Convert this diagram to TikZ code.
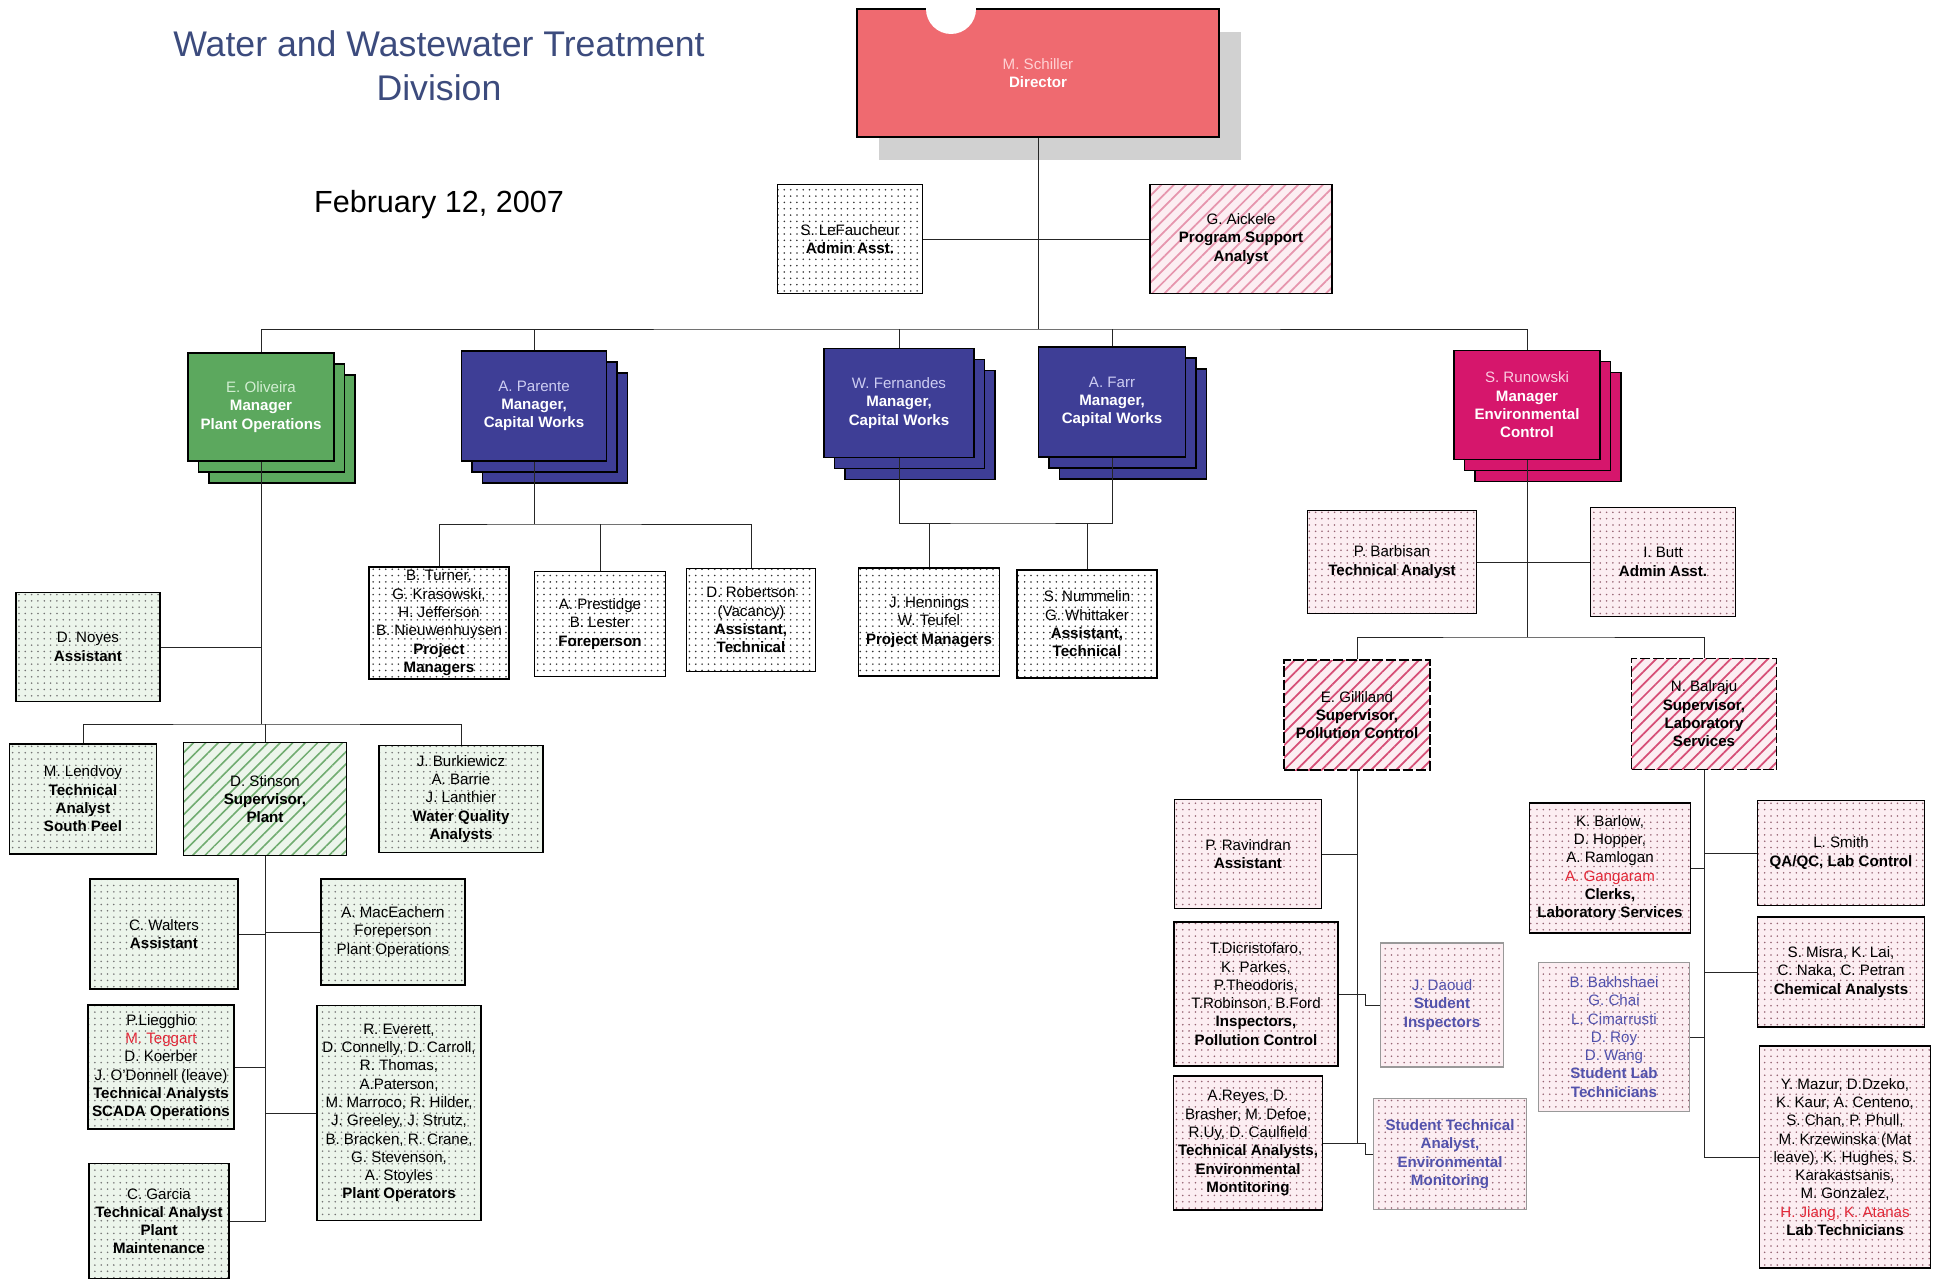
\documentclass[tikz,border=0pt]{standalone}
\usepackage{fontspec}
\setmainfont{Liberation Sans}
\usetikzlibrary{patterns.meta,shadows}

\definecolor{titleblue}{RGB}{60,75,125}
\definecolor{dirred}{RGB}{239,106,112}
\definecolor{dirname}{RGB}{255,210,212}
\definecolor{mgrgreen}{RGB}{92,168,94}
\definecolor{greenname}{RGB}{210,238,210}
\definecolor{mgrblue}{RGB}{62,62,150}
\definecolor{bluename}{RGB}{205,205,242}
\definecolor{mgrpink}{RGB}{214,22,108}
\definecolor{pinkname}{RGB}{250,205,225}
\definecolor{greenbg}{RGB}{236,245,235}
\definecolor{pinkbg}{RGB}{252,238,242}
\definecolor{greenline}{RGB}{112,172,112}
\definecolor{pinkline}{RGB}{214,78,118}
\definecolor{dotpink}{RGB}{150,100,115}
\definecolor{studentblue}{RGB}{82,82,172}
\definecolor{alertred}{RGB}{226,40,56}

\newcommand{\boxfont}{\fontsize{8.6}{10.4}\selectfont}

\begin{document}
\begin{tikzpicture}[x=0.02cm, y=-0.02cm,
    sz/.style 2 args={minimum width=#1*0.02cm, minimum height=#2*0.02cm},
    box/.style={rectangle, draw, line width=0.75pt, align=center, inner sep=1pt, font=\boxfont},
    dotbox/.style={box, preaction={fill=white}, pattern={Dots[distance=3.6pt, radius=0.5pt]}, pattern color=black!80},
    greenbox/.style={box, preaction={fill=greenbg}, pattern={Dots[distance=3.6pt, radius=0.5pt]}, pattern color=black!55},
    pinkbox/.style={box, preaction={fill=pinkbg}, pattern={Dots[distance=3.6pt, radius=0.5pt]}, pattern color=dotpink},
    greenhatch/.style={box, preaction={fill=greenbg}, pattern={Lines[angle=45, distance=5pt, line width=0.9pt]}, pattern color=greenline},
    pinkhatch/.style={box, preaction={fill=pinkbg}, pattern={Lines[angle=45, distance=5pt, line width=1pt]}, pattern color=pinkline},
    studentbox/.style={pinkbox, draw=black!40, line width=0.6pt, text=studentblue},
    mgrbox/.style={box, fill=#1, copy shadow={shadow xshift=0.42cm, shadow yshift=-0.44cm}, copy shadow={shadow xshift=0.21cm, shadow yshift=-0.22cm}, text=white, font=\boxfont\bfseries},
    dirbox/.style={box, fill=dirred, drop shadow={shadow xshift=0.44cm, shadow yshift=-0.46cm, fill=black!18, opacity=1}, text=white, font=\boxfont\bfseries},
    link/.style={draw=black!85, line width=0.5pt}
]
    \useasboundingbox (0,0) rectangle (1937,1284);

    % Heading
    \node[font=\fontsize{20.3}{25}\selectfont, text=titleblue, align=center] (title) at (439,66) {Water and Wastewater Treatment\\Division};
    \node[font=\fontsize{17.4}{20}\selectfont] (date) at (439,205) {February 12, 2007};

    % Director and staff
    \node[dirbox, sz={362}{128}] (dir) at (1038,73) {{\mdseries\color{dirname}M. Schiller}\\Director};
    \fill[white] (951,9) circle (0.5cm);
    \node[dotbox, sz={145}{109}] (lefaucheur) at (850,239) {S. LeFaucheur\\\textbf{Admin Asst.}};
    \node[pinkhatch, pattern color=pinkline!60, sz={182}{109}] (aickele) at (1241,239) {G. Aickele\\\textbf{Program Support}\\\textbf{Analyst}};

    % Managers
    \node[mgrbox=mgrgreen, sz={146}{108}] (oliveira) at (261,407) {{\mdseries\color{greenname}E. Oliveira}\\Manager\\Plant Operations};
    \node[mgrbox=mgrblue, sz={145}{110}] (parente) at (534,406) {{\mdseries\color{bluename}A. Parente}\\Manager,\\Capital Works};
    \node[mgrbox=mgrblue, sz={150}{109}] (fernandes) at (899,403) {{\mdseries\color{bluename}W.  Fernandes}\\Manager,\\Capital Works};
    \node[mgrbox=mgrblue, sz={147}{110}] (farr) at (1112,402) {{\mdseries\color{bluename}A. Farr}\\Manager,\\Capital Works};
    \node[mgrbox=mgrpink, sz={146}{109}] (runowski) at (1527,405) {{\mdseries\color{pinkname}S. Runowski}\\Manager\\Environmental\\Control};

    % Capital works staff
    \node[dotbox, sz={140}{112}] (turner) at (439,623) {B. Turner,\\G. Krasowski,\\H. Jefferson\\B. Nieuwenhuysen\\\textbf{Project}\\\textbf{Managers}};
    \node[dotbox, sz={131}{105}] (prestidge) at (600,624) {A. Prestidge\\B. Lester\\\textbf{Foreperson}};
    \node[dotbox, sz={129}{103}] (robertson) at (751,620) {D. Robertson\\(Vacancy)\\\textbf{Assistant,}\\\textbf{Technical}};
    \node[dotbox, sz={141}{108}] (hennings) at (929,622) {J. Hennings\\W. Teufel\\\textbf{Project Managers}};
    \node[dotbox, sz={140}{108}] (nummelin) at (1087,624) {S. Nummelin\\G. Whittaker\\\textbf{Assistant,}\\\textbf{Technical}};

    % Plant operations staff
    \node[greenbox, sz={144}{109}] (noyes) at (88,647) {D. Noyes\\\textbf{Assistant}};
    \node[greenbox, sz={147}{110}] (lendvoy) at (83,799) {M. Lendvoy\\\textbf{Technical}\\\textbf{Analyst}\\\textbf{South Peel}};
    \node[greenhatch, sz={163}{113}] (stinson) at (265,799) {D. Stinson\\\textbf{Supervisor,}\\\textbf{Plant}};
    \node[greenbox, sz={164}{107}] (burkiewicz) at (461,799) {J. Burkiewicz\\A. Barrie\\J. Lanthier\\\textbf{Water Quality}\\\textbf{Analysts}};
    \node[greenbox, sz={148}{110}] (walters) at (164,934) {C. Walters\\\textbf{Assistant}};
    \node[greenbox, sz={144}{106}] (maceachern) at (393,932) {A. MacEachern\\Foreperson\\Plant Operations};
    \node[greenbox, sz={146}{124}] (liegghio) at (161,1067) {P.Liegghio\\{\color{alertred}M. Teggart}\\D. Koerber\\J. O'Donnell (leave)\\\textbf{Technical Analysts}\\\textbf{SCADA Operations}};
    \node[greenbox, sz={164}{215}] (operators) at (399,1113) {R. Everett,\\D. Connelly, D. Carroll,\\R. Thomas,\\A.Paterson,\\M. Marroco, R. Hilder,\\J. Greeley, J. Strutz,\\B. Bracken, R. Crane,\\G. Stevenson,\\A. Stoyles\\\textbf{Plant Operators}};
    \node[greenbox, sz={140}{115}] (garcia) at (159,1221) {C. Garcia\\\textbf{Technical Analyst}\\\textbf{Plant}\\\textbf{Maintenance}};

    % Environmental control staff
    \node[pinkbox, sz={169}{103}] (barbisan) at (1392,562) {P. Barbisan\\\textbf{Technical Analyst}};
    \node[pinkbox, sz={145}{109}] (butt) at (1663,562) {I. Butt\\\textbf{Admin Asst.}};
    \node[pinkhatch, dash pattern=on 6pt off 1.5pt, sz={146}{110}] (gilliland) at (1357,715) {E. Gilliland\\\textbf{Supervisor,}\\\textbf{Pollution Control}};
    \node[pinkhatch, dash pattern=on 6pt off 1.5pt, sz={145}{111}] (balraju) at (1704,714) {N. Balraju\\\textbf{Supervisor,}\\\textbf{Laboratory}\\\textbf{Services}};

    % Pollution control
    \node[pinkbox, sz={147}{109}] (ravindran) at (1248,854) {P. Ravindran\\\textbf{Assistant}};
    \node[pinkbox, sz={164}{144}] (dicristofaro) at (1256,994) {T.Dicristofaro,\\K. Parkes,\\P.Theodoris,\\T.Robinson, B.Ford\\\textbf{Inspectors,}\\\textbf{Pollution Control}};
    \node[studentbox, sz={123}{124}] (daoud) at (1442,1005) {J. Daoud\\\textbf{Student}\\\textbf{Inspectors}};
    \node[pinkbox, sz={149}{134}] (reyes) at (1248,1143) {A.Reyes, D.\\Brasher, M. Defoe,\\R.Uy, D. Caulfield\\\textbf{Technical Analysts,}\\\textbf{Environmental}\\\textbf{Montitoring}};
    \node[studentbox, sz={153}{111}] (sta) at (1450,1154) {\textbf{Student Technical}\\\textbf{Analyst,}\\\textbf{Environmental}\\\textbf{Monitoring}};

    % Laboratory services
    \node[pinkbox, sz={161}{130}] (barlow) at (1610,868) {K. Barlow,\\D. Hopper,\\A. Ramlogan\\{\color{alertred}A. Gangaram}\\\textbf{Clerks,}\\\textbf{Laboratory Services}};
    \node[pinkbox, sz={167}{105}] (smith) at (1841,853) {L. Smith\\\textbf{QA/QC, Lab Control}};
    \node[studentbox, sz={151}{149}] (bakhshaei) at (1614,1037) {B. Bakhshaei\\G. Chai\\L. Cimarrusti\\D. Roy\\D. Wang\\\textbf{Student Lab}\\\textbf{Technicians}};
    \node[pinkbox, sz={167}{110}] (misra) at (1841,972) {S. Misra, K. Lai,\\C. Naka, C. Petran\\\textbf{Chemical Analysts}};
    \node[pinkbox, sz={171}{222}] (mazur) at (1845,1157) {Y. Mazur, D.Dzeko,\\K. Kaur, A. Centeno,\\S. Chan, P. Phull,\\M. Krzewinska (Mat\\leave), K. Hughes,  S.\\Karakastsanis,\\M. Gonzalez,\\{\color{alertred}H. Jiang, K. Atanas}\\\textbf{Lab Technicians}};

    % Bus points
    \coordinate (topbus) at (1038,329);
    \coordinate (pbus) at (534,524);
    \coordinate (fbus) at (1000,523);
    \coordinate (obus) at (261,724);
    \coordinate (rbus) at (1527,637);

    % Connections
    \draw[link] (dir.south) -- (topbus);
    \draw[link] (lefaucheur) -- (aickele);
    \draw[link] (oliveira.north) |- (topbus) -| (runowski.north);
    \draw[link] (parente.north) -- (parente.north |- topbus);
    \draw[link] (fernandes.north) -- (fernandes.north |- topbus);
    \draw[link] (farr.north) -- (farr.north |- topbus);

    \draw[link] (parente.south) -- (pbus);
    \draw[link] (turner.north) |- (pbus) -| (robertson.north);
    \draw[link] (prestidge.north) -- (prestidge.north |- pbus);
    \draw[link] (fernandes.south) |- (fbus) -| (farr.south);
    \draw[link] (hennings.north) -- (hennings.north |- fbus);
    \draw[link] (nummelin.north) -- (nummelin.north |- fbus);

    \draw[link] (oliveira.south) -- (obus);
    \draw[link] (noyes) -- (noyes -| obus);
    \draw[link] (lendvoy.north) |- (obus) -| (burkiewicz.north);
    \draw[link] (stinson.north) -- (stinson.north |- obus);
    \draw[link] (stinson.south) |- (garcia.east);
    \draw[link] (walters) -- (walters -| stinson.south);
    \draw[link] (maceachern) -- (maceachern -| stinson.south);
    \draw[link] (liegghio) -- (liegghio -| stinson.south);
    \draw[link] (operators) -- (operators -| stinson.south);

    \draw[link] (runowski.south) -- (rbus);
    \draw[link] (barbisan) -- (barbisan -| rbus);
    \draw[link] (butt) -- (butt -| rbus);
    \draw[link] (gilliland.north) |- (rbus) -| (balraju.north);

    \draw[link] (gilliland.south) |- (reyes.east);
    \draw[link] (ravindran) -- (ravindran -| gilliland.south);
    \draw[link] (dicristofaro) -- (dicristofaro -| gilliland.south);
    \draw[link] (dicristofaro -| gilliland.south) -- ++(8,0) |- (daoud.west);
    \draw[link] (reyes -| gilliland.south) -- ++(8,0) |- (sta.west);

    \draw[link] (balraju.south) |- (mazur.west);
    \draw[link] (barlow) -- (barlow -| balraju.south);
    \draw[link] (smith) -- (smith -| balraju.south);
    \draw[link] (bakhshaei) -- (bakhshaei -| balraju.south);
    \draw[link] (misra) -- (misra -| balraju.south);
\end{tikzpicture}
\end{document}
